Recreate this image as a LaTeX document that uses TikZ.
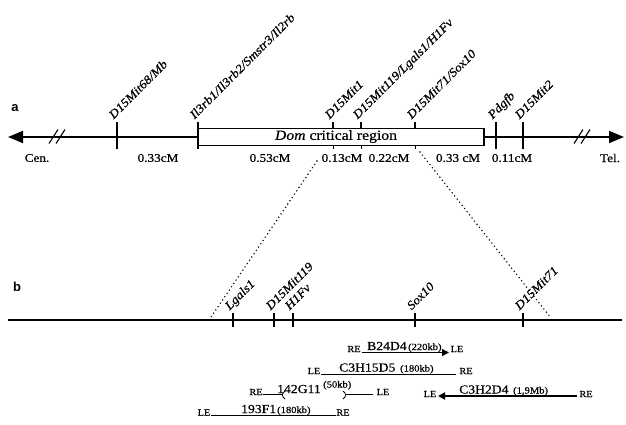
\documentclass[tikz,border=0pt]{standalone}
\usepackage{fontspec}
\setmainfont{Liberation Serif}[FakeStretch=1.12,FakeBold=0.5]
\newfontfamily\panelfont{Liberation Sans}
\usetikzlibrary{arrows.meta}
\tikzset{
  chrom/.style={line width=1.8pt},
  bline/.style={line width=1.5pt},
  tickline/.style={line width=1.3pt},
  boxline/.style={line width=1.1pt},
  marker/.style={rotate=45, anchor=base west, inner sep=0pt, font=\fontsize{12}{13}\selectfont\itshape},
  dist/.style={inner sep=0pt, font=\fontsize{11.8}{12}\selectfont},
  panellab/.style={inner sep=0pt, font=\panelfont\bfseries\fontsize{13}{14}\selectfont},
  endlab/.style={inner sep=0pt, anchor=base, font=\fontsize{9.2}{10}\selectfont},
  clonename/.style={inner sep=0pt, anchor=base west, font=\fontsize{12.2}{13}\selectfont},
  clonesize/.style={inner sep=0pt, anchor=base west, font=\fontsize{9.4}{10}\selectfont},
  thick clone/.style={line width=1.8pt},
  thin clone/.style={line width=0.7pt},
  dots/.style={line width=1.6pt, dash pattern=on 0pt off 4pt, line cap=round},
  bigtip/.style={-{Triangle[length=15pt,width=12pt]}},
  smalltip/.style={-{Triangle[length=7pt,width=7pt]}}
}
\begin{document}
\begin{tikzpicture}[x=1pt,y=-1pt]
\useasboundingbox (0,0) rectangle (626,424);

% ---------------- panel a ----------------
\node[panellab] (pa) at (15,108) {a};

\coordinate (aL) at (8,137);
\coordinate (aR) at (624,137);
\coordinate (boxW) at (198,137);
\coordinate (boxE) at (484,137);
\draw[chrom,bigtip] (boxW) -- (aL);
\draw[chrom,bigtip] (boxE) -- (aR);
\draw[boxline,fill=white] (198,128.5) rectangle (484,145.5);
\node[inner sep=0pt, font=\fontsize{14}{15}\selectfont] (dom) at (336,136.5) {\textit{Dom} critical region};

% break marks
\foreach \bx in {49,56,574,581}{
  \draw[line width=1.1pt] (\bx,143.5) -- (\bx+9,129.5);
}

% ticks
\foreach \tx in {117,198,496,523}{
  \draw[tickline] (\tx,122) -- (\tx,148.5);
}
\foreach \tx in {333,361,415}{
  \draw[tickline] (\tx,122) -- (\tx,128.5);
  \draw[line width=1pt] (\tx,145.5) -- (\tx,148.5);
}

% marker labels
\node[marker] (m1) at (113.5,119.5) {D15Mit68/Mb};
\node[marker] (m2) at (194.5,119.5) {Il3rb1/Il3rb2/Smstr3/Il2rb};
\node[marker] (m3) at (329.5,119.5) {D15Mit1};
\node[marker] (m4) at (357.5,119.5) {D15Mit119/Lgals1/H1Fv};
\node[marker] (m5) at (411.5,119.5) {D15Mit71/Sox10};
\node[marker] (m6) at (492.5,119.5) {Pdgfb};
\node[marker] (m7) at (519.5,119.5) {D15Mit2};

% distances
\node[dist] (d0) at (37,158) {Cen.};
\node[dist] (d1) at (158,158) {0.33cM};
\node[dist] (d2) at (270,158) {0.53cM};
\node[dist] (d3) at (342,158) {0.13cM};
\node[dist] (d4) at (389,158) {0.22cM};
\node[dist] (d5) at (458,158) {0.33 cM};
\node[dist] (d6) at (512,158) {0.11cM};
\node[dist] (d7) at (610,158) {Tel.};

% dotted zoom lines
\coordinate (zl1) at (317,161);
\coordinate (zl2) at (211,317);
\coordinate (zr1) at (420,152);
\coordinate (zr2) at (551,318);
\draw[dots] (zl1) -- (zl2);
\draw[dots] (zr1) -- (zr2);

% ---------------- panel b ----------------
\node[panellab] (pb) at (17,287) {b};
\coordinate (bL) at (8,320);
\coordinate (bR) at (622,320);
\draw[bline] (bL) -- (bR);
\foreach \tx in {233,274,293,415,523}{
  \draw[tickline] (\tx,313) -- (\tx,327);
}
\node[marker] (n1) at (229.5,310.5) {Lgals1};
\node[marker] (n2) at (270.5,310.5) {D15Mit119};
\node[marker] (n3) at (289.5,310.5) {H1Fv};
\node[marker] (n4) at (411.5,310.5) {Sox10};
\node[marker] (n5) at (519.5,310.5) {D15Mit71};

% ---------------- clones ----------------
% B24D4
\node[endlab] (r1a) at (354,352) {RE};
\node[endlab] (r1b) at (457,352) {LE};
\coordinate (c1s) at (362,352.5);
\coordinate (c1e) at (449,352.5);
\draw[line width=1.3pt,smalltip] (c1s) -- (c1e);
\node[clonename] (t1) at (367,350) {B24D4};
\node[clonesize] (s1) at (408,350) {(220kb)};

% C3H15D5
\node[endlab] (r2a) at (314,374) {LE};
\node[endlab] (r2b) at (466,374) {RE};
\coordinate (c2s) at (321,374);
\coordinate (c2e) at (456,374);
\draw[thin clone] (c2s) -- (c2e);
\node[clonename] (t2) at (339,371.5) {C3H15D5};
\node[clonesize] (s2) at (400,371.5) {(180kb)};

% 142G11
\node[endlab] (r3a) at (256,395) {RE};
\node[endlab] (r3b) at (383,395) {LE};
\coordinate (c3a) at (263,394.5);
\coordinate (c3b) at (282,394.5);
\coordinate (c3c) at (346,394.5);
\coordinate (c3d) at (373,394.5);
\draw[thick clone] (c3a) -- (c3b);
\draw[thick clone] (c3c) -- (c3d);
\draw[line width=0.8pt] (285,391) .. controls (281.5,393.5) and (281.5,396.5) .. (285,399);
\draw[line width=0.8pt] (343,391) .. controls (346.5,393.5) and (346.5,396.5) .. (343,399);
\node[clonename] (t3) at (277,393) {142G11};
\node[clonesize] (s3) at (323,387.5) {(50kb)};

% C3H2D4
\node[endlab] (r4a) at (430,397) {LE};
\node[endlab] (r4b) at (586,397) {RE};
\coordinate (c4s) at (577,396);
\coordinate (c4e) at (438,396);
\draw[thick clone,smalltip] (c4s) -- (c4e);
\node[clonename] (t4) at (459,393.5) {C3H2D4};
\node[clonesize] (s4) at (513,393.5) {(1,9Mb)};

% 193F1
\node[endlab] (r5a) at (204,415.5) {LE};
\node[endlab] (r5b) at (343,415.5) {RE};
\coordinate (c5s) at (211,415.5);
\coordinate (c5e) at (336,415.5);
\draw[thin clone] (c5s) -- (c5e);
\node[clonename] (t5) at (241,413) {193F1};
\node[clonesize] (s5) at (277,413) {(180kb)};
\end{tikzpicture}
\end{document}
